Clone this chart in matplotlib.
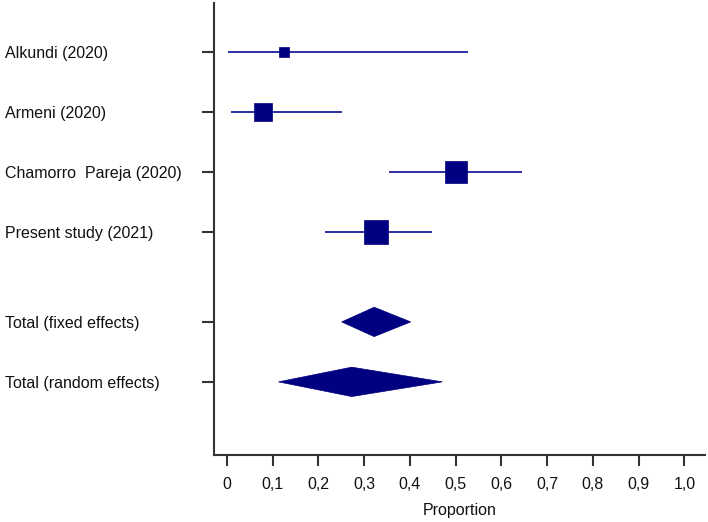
import matplotlib
matplotlib.use("Agg")
import matplotlib.pyplot as plt
from matplotlib.patches import Polygon
import numpy as np

plt.rcParams['font.family'] = ['Liberation Sans', 'DejaVu Sans']

studies = ["Alkundi (2020)", "Armeni (2020)", "Chamorro  Pareja (2020)", "Present study (2021)"]
study_est = [0.125, 0.078, 0.501, 0.325]
study_low = [0.003, 0.009, 0.355, 0.215]
study_high = [0.526, 0.251, 0.645, 0.448]
study_weight = [5.7, 23.4, 33.4, 37.4]

pooled = ["Total (fixed effects)", "Total (random effects)"]
pooled_est = [0.322, 0.273]
pooled_low = [0.251, 0.113]
pooled_high = [0.402, 0.471]

xticks = [0, 0.1, 0.2, 0.3, 0.4, 0.5, 0.6, 0.7, 0.8, 0.9, 1.0]
xticklabels = ["0", "0,1", "0,2", "0,3", "0,4", "0,5", "0,6", "0,7", "0,8", "0,9", "1,0"]

navy = "#000080"
dpi = 100
pt = 72 / dpi
fig = plt.figure(figsize=(7.08, 5.22), dpi=dpi)
ax = fig.add_axes([214/708, (522-455)/522, 1 - 214/708 - 3/708, (455-3)/522])

study_y = [0, 1, 2, 3]
pooled_y = [4.5, 5.5]

for y, e, lo, hi, w in zip(study_y, study_est, study_low, study_high, study_weight):
    ax.plot([lo, hi], [y, y], color="#1c1ca0", lw=1.3, solid_capstyle='butt', zorder=2)
    side_px = 24 * np.sqrt(w / max(study_weight))
    ax.plot([e], [y], marker='s', markersize=side_px * pt, color=navy,
            markeredgecolor=navy, markeredgewidth=0.5, zorder=3)

half_h = 0.245
for y, e, lo, hi in zip(pooled_y, pooled_est, pooled_low, pooled_high):
    poly = Polygon([[lo, y], [e, y - half_h], [hi, y], [e, y + half_h]],
                   closed=True, facecolor=navy, edgecolor=navy, lw=0.5)
    ax.add_patch(poly)

ax.set_xlim(-0.028, 1.045)
ax.set_ylim(6.72, -0.82)

fs = 11.5
ax.set_yticks(study_y + pooled_y)
ax.set_yticklabels(studies + pooled, fontsize=fs, ha='left', color="#111111")
ax.tick_params(axis='y', length=12 * pt, width=1.5, color="#333333",
               pad=(201 - 4) * pt)

ax.set_xticks(xticks)
ax.set_xticklabels(xticklabels, fontsize=fs, color="#111111")
ax.tick_params(axis='x', length=11 * pt, width=1.5, color="#333333", pad=8, direction='out')
ax.set_xlabel("Proportion", fontsize=fs, labelpad=8, color="#111111")

for s in ['top', 'right']:
    ax.spines[s].set_visible(False)
for s in ['left', 'bottom']:
    ax.spines[s].set_linewidth(1.5)
    ax.spines[s].set_color("#333333")

fig.savefig("out.png", dpi=dpi)
